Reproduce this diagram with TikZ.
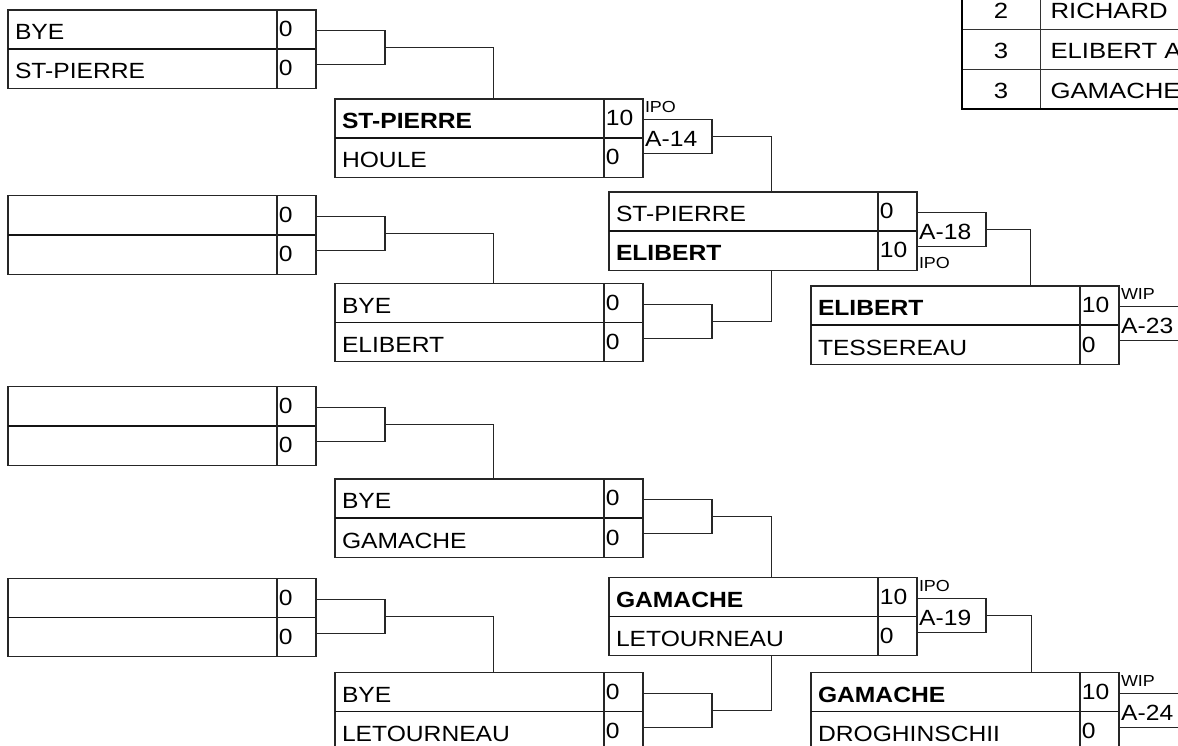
\documentclass[tikz,border=0pt]{standalone}
\usepackage{fontspec}
\setmainfont{Liberation Sans}[FakeStretch=1.12]
\newfontfamily\tabfont{Liberation Sans}[FakeStretch=1.17]
\usetikzlibrary{calc}
\tikzset{
  matchbox/.style={draw=black!85, line width=1.1pt, minimum width=308pt, minimum height=78.4pt, inner sep=0pt, outer sep=0pt},
  rowline/.style={draw=black!92, line width=1.6pt},
  colline/.style={draw=black!85, line width=1.1pt},
  labelbox/.style={draw=black!85, line width=1.1pt, minimum width=69pt, minimum height=34pt, inner sep=0pt, outer sep=0pt},
  conn/.style={draw=black!85, line width=1pt},
  nametxt/.style={inner sep=0pt, outer sep=0pt, anchor=base west, font=\fontsize{22}{26}\selectfont},
  scoretxt/.style={inner sep=0pt, outer sep=0pt, anchor=base west, font=\fontsize{22}{26}\selectfont},
  labeltxt/.style={inner sep=0pt, outer sep=0pt, anchor=base west, font=\fontsize{22}{26}\selectfont},
  tagtxt/.style={inner sep=0pt, outer sep=0pt, anchor=base west, font=\fontsize{16}{19}\selectfont},
  tabcell/.style={draw=black!80, line width=1pt, inner sep=0pt, outer sep=0pt, anchor=north west, minimum height=40pt},
  tabtxt/.style={inner sep=0pt, outer sep=0pt, font=\tabfont\fontsize{22}{26}\selectfont},
  tabborder/.style={draw=black, line width=2.4pt},
}
% id, x, y, name1, score1, name2, score2, label
\newcommand\bracketmatch[8]{%
  \node[matchbox, anchor=north west] (#1) at (#2,#3) {};
  \draw[rowline] (#1.west) -- (#1.east);
  \draw[colline] ([xshift=-39pt]#1.north east) -- ([xshift=-39pt]#1.south east);
  \node[nametxt] (#1-n1) at ([xshift=7pt,yshift=-29.8pt]#1.north west) {#4};
  \node[scoretxt] (#1-s1) at ([xshift=-37.2pt,yshift=-26.8pt]#1.north east) {#5};
  \node[nametxt] (#1-n2) at ([xshift=7pt,yshift=-29.8pt]#1.west) {#6};
  \node[scoretxt] (#1-s2) at ([xshift=-37.2pt,yshift=-26.8pt]#1.east) {#7};
  \node[labelbox, anchor=west] (#1-l) at ([yshift=1.3pt]#1.east) {};
  \node[labeltxt] (#1-lt) at ([xshift=2.2pt,yshift=-27pt]#1-l.north west) {#8};
}
\begin{document}
\begin{tikzpicture}[x=1pt,y=-1pt]
\useasboundingbox (0,0) rectangle (1178,746);
\clip (0,0) rectangle (1178,746);
\fill[white] (0,0) rectangle (1178,746);

% ---- standings table (top right, partly cut off) ----
\node[tabcell, minimum width=78pt] (t1a) at (962,-10.7) {};
\node[tabcell, minimum width=150pt] (t1b) at (1040,-10.7) {};
\node[tabcell, minimum width=78pt] (t2a) at (962,29.3) {};
\node[tabcell, minimum width=150pt] (t2b) at (1040,29.3) {};
\node[tabcell, minimum width=78pt] (t3a) at (962,69.3) {};
\node[tabcell, minimum width=150pt] (t3b) at (1040,69.3) {};
\draw[tabborder] (t1a.north west) -- (t3a.south west) -- (t3b.south east);
\node[tabtxt, anchor=base] (t1an) at ([yshift=-29pt]t1a.north) {2};
\node[tabtxt, anchor=base west] (t1bn) at ([xshift=10.5pt,yshift=-29pt]t1b.north west) {RICHARD};
\node[tabtxt, anchor=base] (t2an) at ([yshift=-29pt]t2a.north) {3};
\node[tabtxt, anchor=base west] (t2bn) at ([xshift=10.5pt,yshift=-29pt]t2b.north west) {ELIBERT A};
\node[tabtxt, anchor=base] (t3an) at ([yshift=-29pt]t3a.north) {3};
\node[tabtxt, anchor=base west] (t3bn) at ([xshift=10.5pt,yshift=-29pt]t3b.north west) {GAMACHE};

% ---- round 1 ----
\bracketmatch{R1a}{8}{10}{BYE}{0}{ST-PIERRE}{0}{}
\bracketmatch{R1b}{8}{195.7}{}{0}{}{0}{}
\bracketmatch{R1c}{8}{386.7}{}{0}{}{0}{}
\bracketmatch{R1d}{8}{578.3}{}{0}{}{0}{}

% ---- round 2 ----
\bracketmatch{R2a}{335}{99}{\textbf{ST-PIERRE}}{10}{HOULE}{0}{A-14}
\node[tagtxt] (R2a-tag) at ([xshift=2pt,yshift=7pt]R2a-l.north west) {IPO};
\bracketmatch{R2b}{335}{283.3}{BYE}{0}{ELIBERT}{0}{}
\bracketmatch{R2c}{335}{479}{BYE}{0}{GAMACHE}{0}{}
\bracketmatch{R2d}{335}{672.3}{BYE}{0}{LETOURNEAU}{0}{}

% ---- round 3 ----
\bracketmatch{R3a}{609}{192}{ST-PIERRE}{0}{\textbf{ELIBERT}}{10}{A-18}
\node[tagtxt] (R3a-tag) at ([xshift=2pt,yshift=-22pt]R3a-l.south west) {IPO};
\bracketmatch{R3b}{609}{577.3}{\textbf{GAMACHE}}{10}{LETOURNEAU}{0}{A-19}
\node[tagtxt] (R3b-tag) at ([xshift=2pt,yshift=7pt]R3b-l.north west) {IPO};

% ---- round 4 ----
\bracketmatch{R4a}{811}{286}{\textbf{ELIBERT}}{10}{TESSEREAU}{0}{A-23}
\node[tagtxt] (R4a-tag) at ([xshift=2pt,yshift=7pt]R4a-l.north west) {WIP};
\bracketmatch{R4b}{811}{672.3}{\textbf{GAMACHE}}{10}{DROGHINSCHII}{0}{A-24}
\node[tagtxt] (R4b-tag) at ([xshift=2pt,yshift=7pt]R4b-l.north west) {WIP};

% ---- connectors ----
\draw[conn] (R1a-l.east) -| ([xshift=158pt]R2a.north west);
\draw[conn] (R1b-l.east) -| ([xshift=158pt]R2b.north west);
\draw[conn] (R1c-l.east) -| ([xshift=158pt]R2c.north west);
\draw[conn] (R1d-l.east) -| ([xshift=158pt]R2d.north west);
\draw[conn] (R2a-l.east) -| ([xshift=162pt]R3a.north west);
\draw[conn] (R2b-l.east) -| ([xshift=162pt]R3a.south west);
\draw[conn] (R2c-l.east) -| ([xshift=162pt]R3b.north west);
\draw[conn] (R2d-l.east) -| ([xshift=162pt]R3b.south west);
\draw[conn] (R3a-l.east) -| ([xshift=219pt]R4a.north west);
\draw[conn] (R3b-l.east) -| ([xshift=220pt]R4b.north west);
\end{tikzpicture}
\end{document}
